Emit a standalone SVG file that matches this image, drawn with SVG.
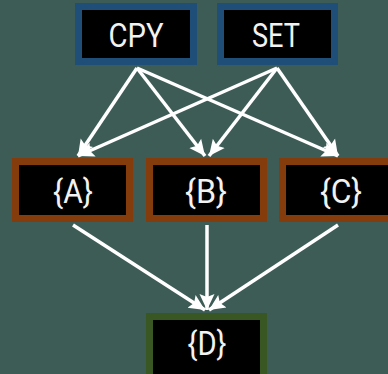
<svg xmlns="http://www.w3.org/2000/svg" width="388" height="374" viewBox="0 0 388 374">
  <defs>
    <marker id="arrow" markerUnits="userSpaceOnUse" markerWidth="18" markerHeight="18" refX="16" refY="9" orient="auto">
      <path d="M0,1.5 L16,9 L0,16.5 L3,9 z" fill="#ffffff"/>
    </marker>
    <style>
      .bg { fill: #3e5c56; }
      .box { fill: #000000; stroke-width: 7; }
      .op { stroke: #1f4e79; }
      .var { stroke: #843c0c; }
      .out { stroke: #385723; }
      .lbl { font-family: Roboto, "Liberation Sans", sans-serif; font-size: 34px; fill: #f2f2f2; text-anchor: middle; }
      .edge { stroke: #ffffff; stroke-width: 3.5; fill: none; marker-end: url(#arrow); }
    </style>
  </defs>
  <rect class="bg" x="0" y="0" width="388" height="374"/>

  <g id="connectors">
    <line class="edge" x1="137" y1="68" x2="78" y2="156"/>
    <line class="edge" x1="137" y1="68" x2="205" y2="156"/>
    <line class="edge" x1="137" y1="68" x2="338" y2="156"/>
    <line class="edge" x1="277" y1="68" x2="78" y2="156"/>
    <line class="edge" x1="277" y1="68" x2="209" y2="156"/>
    <line class="edge" x1="277" y1="68" x2="338" y2="156"/>
    <line class="edge" x1="73" y1="225" x2="205" y2="310"/>
    <line class="edge" x1="207" y1="225" x2="207" y2="310"/>
    <line class="edge" x1="338" y1="225" x2="209" y2="310"/>
  </g>

  <g id="cpy">
    <rect class="box op" x="78.5" y="6.5" width="115" height="55"/>
    <text class="lbl" x="136" y="47" textLength="55" lengthAdjust="spacingAndGlyphs">CPY</text>
  </g>
  <g id="set">
    <rect class="box op" x="220.5" y="6.5" width="114" height="55"/>
    <text class="lbl" x="276" y="47" textLength="48" lengthAdjust="spacingAndGlyphs">SET</text>
  </g>

  <g id="a">
    <rect class="box var" x="15.5" y="161.5" width="114" height="57"/>
    <text class="lbl" x="73" y="203" textLength="40" lengthAdjust="spacingAndGlyphs">{A}</text>
  </g>
  <g id="b">
    <rect class="box var" x="149.5" y="161.5" width="114" height="57"/>
    <text class="lbl" x="206" y="203" textLength="42" lengthAdjust="spacingAndGlyphs">{B}</text>
  </g>
  <g id="c">
    <rect class="box var" x="282.5" y="161.5" width="114" height="57"/>
    <text class="lbl" x="341" y="203" textLength="42" lengthAdjust="spacingAndGlyphs">{C}</text>
  </g>

  <g id="d">
    <rect class="box out" x="149.5" y="316.5" width="114" height="62"/>
    <text class="lbl" x="207" y="355" textLength="39" lengthAdjust="spacingAndGlyphs">{D}</text>
  </g>
</svg>
